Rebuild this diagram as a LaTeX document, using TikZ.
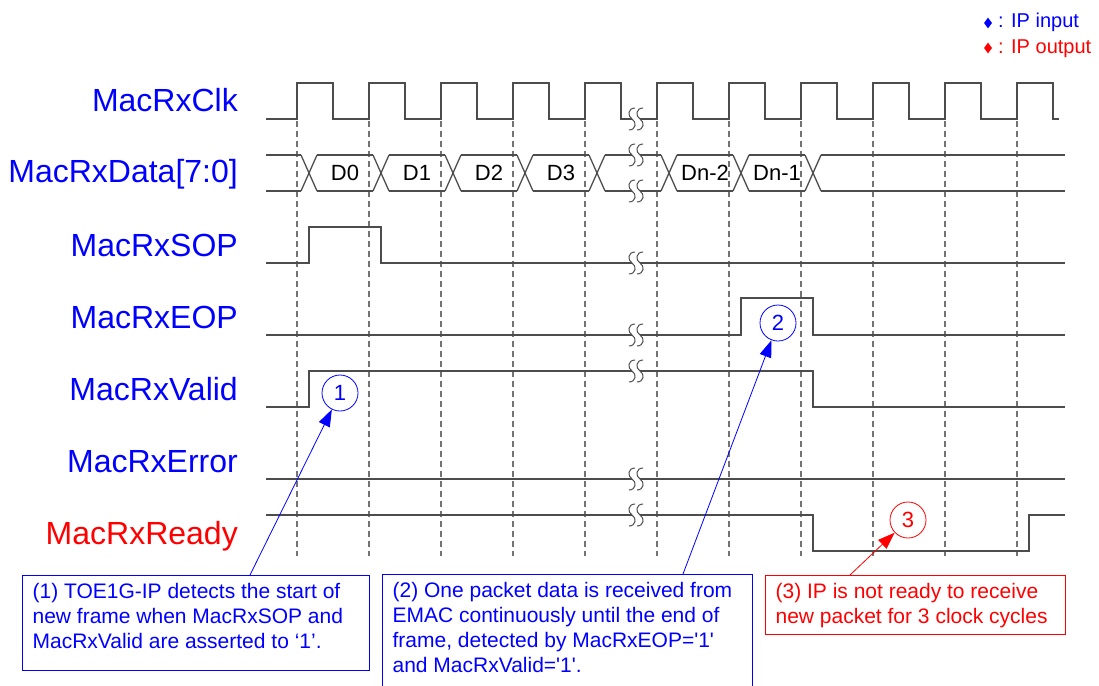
\documentclass[tikz,border=0pt]{standalone}
\usepackage{fontspec}
\setmainfont{Liberation Sans}
\usepackage{tikz}
\usetikzlibrary{arrows.meta,shapes.geometric}

% break mark on a signal line (two S strokes)
\tikzset{
  gapmark/.pic={
    \fill[white] (-4,-2.5) rectangle (4,2.5);
    \foreach \dx in {-4,4} {
      \draw[black!70, line width=1pt] (\dx+3,-11) .. controls (\dx-4,-11) and (\dx-5,-3) .. (\dx,0)
        .. controls (\dx+5,3) and (\dx+4,11) .. (\dx-3,11);
    }
  }
}

\begin{document}
\begin{tikzpicture}[x=1pt, y=-1pt,
  sig/.style={draw=black!70, line width=1.3pt},
  edgeline/.style={draw=black!55, line width=1.2pt, dash pattern=on 6pt off 4pt},
  lbl/.style={anchor=base east, inner sep=0, text=blue, font=\fontsize{32}{38}\selectfont},
  dlbl/.style={inner sep=0, font=\fontsize{22}{26}\selectfont},
  num/.style={circle, draw, minimum size=36pt, inner sep=0, line width=0.8pt, font=\fontsize{22}{26}\selectfont},
  note/.style={draw, anchor=north west, inner xsep=10pt, inner ysep=7.5pt, line width=1.2pt, font=\fontsize{21}{25}\selectfont},
  legdia/.style={diamond, inner sep=0, minimum width=8pt, minimum height=11pt},
  legtxt/.style={anchor=base west, inner sep=0, font=\fontsize{20}{24}\selectfont},
  pointer/.style={line width=0.8pt, -{Triangle[length=17pt,width=12pt]}}]

  \useasboundingbox (0,0) rectangle (1099,685);

  % Legend
  \node[legdia, fill=blue] (kin) at (988,23) {};
  \node[legtxt, text=blue] (kintxt) at (998,28) {: IP input};
  \node[legdia, fill=red] (kout) at (988,48) {};
  \node[legtxt, text=red] (kouttxt) at (998,53) {: IP output};

  % Signal names
  \node[lbl] (lclk) at (238,111) {MacRxClk};
  \node[lbl] (ldata) at (238,182) {MacRxData[7:0]};
  \node[lbl] (lsop) at (238,256) {MacRxSOP};
  \node[lbl] (leop) at (238,328) {MacRxEOP};
  \node[lbl] (lvalid) at (238,400) {MacRxValid};
  \node[lbl] (lerror) at (238,472) {MacRxError};
  \node[lbl, text=red] (lready) at (238,544) {MacRxReady};

  % clock edge guides
  \foreach \k in {0,...,10} {\draw[edgeline] ({297+72*\k},121) -- ({297+72*\k},556);}

  % MacRxClk
  \draw[sig] (266,119) \foreach \k in {0,...,10} {-- ({297+72*\k},119) -- ({297+72*\k},83) -- ({333+72*\k},83) -- ({333+72*\k},119)} -- (1059,119);

  % MacRxData bus
  \draw[sig] (266,155) -- (301,155) (266,191) -- (301,191);
  \foreach \k in {0,...,7} {
    \pgfmathsetmacro\tx{309+72*\k}
    \draw[sig] (\tx-8,155) -- (\tx+8,191) (\tx-8,191) -- (\tx+8,155);
  }
  \foreach \k in {0,...,6} {\draw[sig] ({317+72*\k},155) -- ({373+72*\k},155) ({317+72*\k},191) -- ({373+72*\k},191);}
  \draw[sig] (821,155) -- (1065,155) (821,191) -- (1065,191);
  \foreach \t/\name [count=\i] in {345/D0, 417/D1, 489/D2, 561/D3, 705/Dn-2, 777/Dn-1} {
    \node[dlbl] (dat\i) at (\t,173) {\name};
  }

  % control signals
  \draw[sig] (266,263) -- (309,263) -- (309,227) -- (381,227) -- (381,263) -- (1065,263);
  \draw[sig] (266,335) -- (741,335) -- (741,298) -- (813,298) -- (813,335) -- (1065,335);
  \draw[sig] (266,407) -- (309,407) -- (309,371) -- (813,371) -- (813,407) -- (1065,407);
  \draw[sig] (266,479) -- (1065,479);
  \draw[sig] (266,515) -- (813,515) -- (813,551) -- (1029,551) -- (1029,515) -- (1065,515);

  % time breaks
  \foreach \y in {119,155,191,263,335,371,479,515} {\pic at (636,\y) {gapmark};}

  % numbered marks
  \node[num, draw=blue, text=blue] (c1) at (340,393) {1};
  \node[num, draw=blue, text=blue] (c2) at (778,323) {2};
  \node[num, draw=red, text=red] (c3) at (908,520) {3};

  % notes
  \node[note, draw=blue, text=blue] (n1) at (22,575) {\parbox[t][80pt][t]{327pt}{(1) TOE1G-IP detects the start of\\ new frame when MacRxSOP and\\ MacRxValid are asserted to `1'.}};
  \node[note, draw=blue, text=blue] (n2) at (382,574) {\parbox[t][103pt][t]{350pt}{(2) One packet data is received from\\ EMAC continuously until the end of\\ frame, detected by MacRxEOP=\textquotesingle 1\textquotesingle\\ and MacRxValid=\textquotesingle 1\textquotesingle.}};
  \node[note, draw=red, text=red] (n3) at (765,575) {\parbox[t][44pt][t]{280pt}{(3) IP is not ready to receive\\ new packet for 3 clock cycles}};

  \draw[pointer, blue] ([xshift=228pt]n1.north west) -- (c1);
  \draw[pointer, blue] ([xshift=301pt]n2.north west) -- (c2);
  \draw[pointer, red] ([xshift=85pt]n3.north west) -- (c3);

\end{tikzpicture}
\end{document}
